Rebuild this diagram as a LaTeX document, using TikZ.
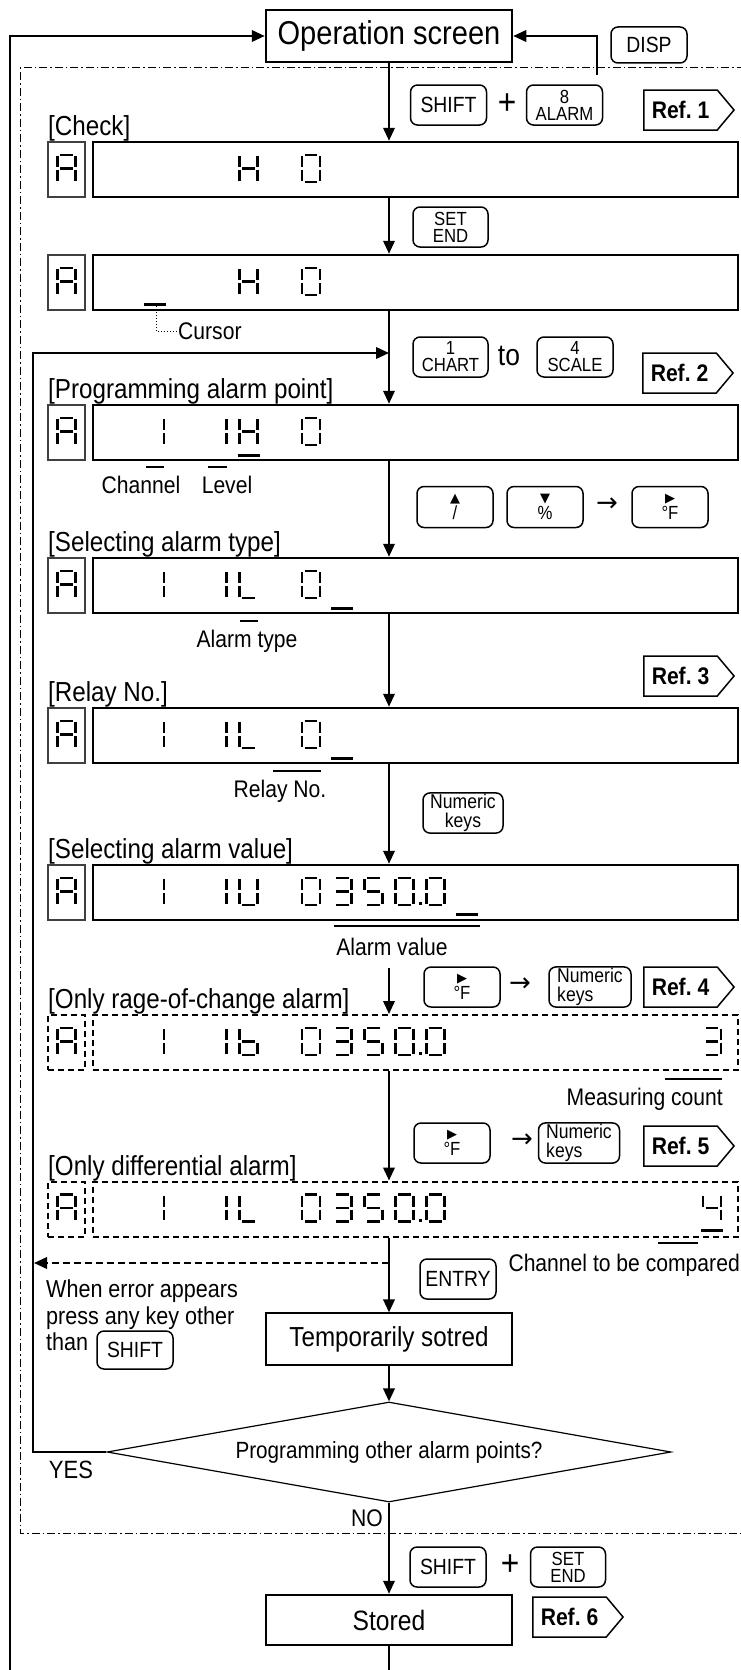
\documentclass[tikz,border=0pt]{standalone}
\usepackage{fontspec}
\setmainfont{Liberation Sans}[FakeStretch=0.88]
\newfontfamily\symfont{DejaVu Sans}
\usetikzlibrary{positioning,arrows.meta,shapes.geometric,shapes.symbols}

\newcommand{\fs}[1]{\fontsize{#1}{#1}\selectfont}

% seven-segment pieces, (#1,#2) is the centre of the character
\newcommand{\sga}[2]{\draw[segment] (#1-6.4,#2-13.5) -- (#1+6.4,#2-13.5);}
\newcommand{\sgg}[2]{\draw[segment] (#1-6.4,#2) -- (#1+6.4,#2);}
\newcommand{\sgd}[2]{\draw[segment] (#1-6.4,#2+13.5) -- (#1+6.4,#2+13.5);}
\newcommand{\sgf}[2]{\draw[segment] (#1-9,#2-12.4) -- (#1-9,#2-1.5);}
\newcommand{\sgb}[2]{\draw[segment] (#1+9,#2-12.4) -- (#1+9,#2-1.5);}
\newcommand{\sge}[2]{\draw[segment] (#1-9,#2+1.5) -- (#1-9,#2+12.4);}
\newcommand{\sgc}[2]{\draw[segment] (#1+9,#2+1.5) -- (#1+9,#2+12.4);}
\newcommand{\sevdigit}[3]{\foreach \s in #3 {\csname sg\s\endcsname{#1}{#2}}}
\newcommand{\dcursor}[2]{\draw[cursorline] (#1-11,#2) -- (#1+11,#2);}
\newcommand{\decpoint}[1]{\fill (418.5,#1+10.5) rectangle (421.5,#1+13.5);}
\newcommand{\chA}{a,b,c,e,f,g}
\newcommand{\chH}{b,c,e,f,g}
\newcommand{\chO}{a,b,c,d,e,f}
\newcommand{\chI}{b,c}
\newcommand{\chL}{d,e,f}
\newcommand{\chU}{b,c,d,e,f}
\newcommand{\chB}{c,d,e,f,g}
\newcommand{\chT}{a,b,c,d,g}
\newcommand{\chF}{a,c,d,f,g}
\newcommand{\chV}{b,c,f,g}

\begin{document}
\begin{tikzpicture}[x=1pt,y=-1pt,
  >={Triangle[length=13pt,width=11.5pt]},
  conn/.style={line width=2.1pt,->},
  segment/.style={line width=2.7pt},
  cursorline/.style={line width=3pt},
  marker/.style={line width=2.6pt},
  dbox/.style={draw,line width=2.5pt,minimum width=645pt,minimum height=55pt,inner sep=0pt},
  abox/.style={draw=black!75,line width=1.2pt,minimum width=37pt,minimum height=55pt,inner sep=0pt},
  broken/.style={line width=2pt,dash pattern=on 6pt off 4pt},
  bigbox/.style={draw,line width=2.5pt,minimum width=246pt,minimum height=52pt,inner sep=0pt},
  key/.style={draw,rounded corners=7pt,line width=1.5pt,minimum width=76pt,minimum height=40pt,inner sep=1pt,align=center,font=\fs{22}},
  key2/.style={key,font=\fontsize{19}{17}\selectfont},
  numkey/.style={key,font=\fontsize{20}{19.5}\selectfont},
  lbl/.style={anchor=base west,inner sep=0pt,font=\fs{27.5}},
  note/.style={inner sep=0pt,font=\fs{24}},
  reftag/.style={draw,shape=signal,signal to=east,signal pointer angle=100,line width=1.5pt,minimum height=40pt,inner xsep=8pt,inner ysep=0pt,anchor=west,font=\bfseries\fs{24}},
  sym/.style={inner sep=0pt,font=\symfont\fs{26}},
  plus/.style={inner sep=0pt,font=\fs{36}}]
\useasboundingbox (0,0) rectangle (741,1670);
\coordinate (m) at (389,0);

% programming mode frame
\draw[line width=1pt,dash pattern=on 8pt off 3pt on 1.5pt off 3pt] (760,68) -- (20,68) -- (20,1533) -- (760,1533);

\node[bigbox,font=\fs{33}] (op) at (389,36) {Operation screen};
\node[key,minimum height=36pt] (disp) at (649,45) {DISP};
\coordinate (dispfoot) at (597,75);
\coordinate (outfoot) at (10,1670);
\draw[conn] (outfoot) |- (op.west);
\draw[conn] (dispfoot) |- (op.east);

\node[key] (shift1) at (448.5,105) {SHIFT};
\node[plus] (plus1) at (507,104) {+};
\node[key2] (alarm) at (564.5,105) {8\\ALARM};
\node[reftag] (ref1) at (643,110) {Ref.\ 1};

% check
\node[lbl] (lcheck) at (48,135) {[Check]};
\node[abox] (a1) at (66.5,169.5) {};
\node[dbox] (d1) at (415.5,169.5) {};
\sevdigit{66.5}{168.5}{\chA}
\sevdigit{248.6}{168.5}{\chH}
\sevdigit{311}{168.5}{\chO}

\node[key2,minimum width=75pt] (setend1) at (450.5,227) {SET\\END};

\node[abox] (a2) at (66.5,282.5) {};
\node[dbox] (d2) at (415.5,282.5) {};
\sevdigit{66.5}{281.5}{\chA}
\sevdigit{248.6}{281.5}{\chH}
\sevdigit{311}{281.5}{\chO}
\dcursor{155}{304}
\coordinate (curpt) at (156,306);
\node[note,anchor=west] (curtxt) at (178,331) {Cursor};
\draw[line width=1pt,dotted] (curpt) |- (curtxt.west);

\node[key2,minimum width=75pt] (chart) at (450.5,357) {1\\CHART};
\node[inner sep=0pt,font=\fs{30}] (to) at (509,356) {to};
\node[key2,minimum width=76pt] (scale) at (575,357) {4\\SCALE};
\node[reftag] (ref2) at (642,373) {Ref.\ 2};

% programming alarm point
\node[lbl] (lprog) at (48,398) {[Programming alarm point]};
\node[abox] (a3) at (66.5,432.5) {};
\node[dbox] (d3) at (415.5,432.5) {};
\sevdigit{66.5}{431.5}{\chA}
\sevdigit{155}{431.5}{\chI}
\sevdigit{217.4}{431.5}{\chI}
\sevdigit{248.6}{431.5}{\chH}
\sevdigit{311}{431.5}{\chO}
\dcursor{248.6}{455}
\draw[marker] (146,467) -- (164,467);
\draw[marker] (208,467) -- (227,467);
\node[note] (lchan) at (141,485) {Channel};
\node[note] (llev) at (227,485) {Level};

\node[key2,minimum height=41pt] (up) at (455,507) {{\symfont\fs{13}▲}\\/};
\node[key2,minimum height=41pt] (down) at (545,507) {{\symfont\fs{13}▼}\\\%};
\node[sym] (arr1) at (607,505) {→};
\node[key2,minimum height=41pt] (degf1) at (670,507) {{\symfont\fs{13}▶}\\°F};

% alarm type
\node[lbl] (ltype) at (48,551) {[Selecting alarm type]};
\node[abox] (a4) at (66.5,585.5) {};
\node[dbox] (d4) at (415.5,585.5) {};
\sevdigit{66.5}{584.5}{\chA}
\sevdigit{155}{584.5}{\chI}
\sevdigit{217.4}{584.5}{\chI}
\sevdigit{248.6}{584.5}{\chL}
\sevdigit{311}{584.5}{\chO}
\dcursor{342.2}{608}
\draw[marker] (240,621) -- (258,621);
\node[note] (ltypetxt) at (247,641) {Alarm type};

\node[reftag] (ref3) at (643,676) {Ref.\ 3};

% relay
\node[lbl] (lrelay) at (48,701) {[Relay No.]};
\node[abox] (a5) at (66.5,735.5) {};
\node[dbox] (d5) at (415.5,735.5) {};
\sevdigit{66.5}{734.5}{\chA}
\sevdigit{155}{734.5}{\chI}
\sevdigit{217.4}{734.5}{\chI}
\sevdigit{248.6}{734.5}{\chL}
\sevdigit{311}{734.5}{\chO}
\dcursor{342.2}{758}
\draw[marker] (273,771) -- (321,771);
\node[note] (lrelaytxt) at (280,791) {Relay No.};

\node[numkey,minimum width=80pt] (num1) at (463,813) {Numeric\\keys};

% alarm value
\node[lbl] (lval) at (48,858) {[Selecting alarm value]};
\node[abox] (a6) at (66.5,892.5) {};
\node[dbox] (d6) at (415.5,892.5) {};
\sevdigit{66.5}{891.5}{\chA}
\sevdigit{155}{891.5}{\chI}
\sevdigit{217.4}{891.5}{\chI}
\sevdigit{248.6}{891.5}{\chU}
\sevdigit{311}{891.5}{\chO}
\sevdigit{342.2}{891.5}{\chT}
\sevdigit{373.4}{891.5}{\chF}
\sevdigit{404.6}{891.5}{\chO}
\decpoint{891.5}
\sevdigit{435.8}{891.5}{\chO}
\dcursor{467}{914}
\draw[marker] (334,926) -- (480,926);
\node[note] (lvaltxt) at (392,947) {Alarm value};
\coordinate (gap) at (389,968);

\node[key2] (degf2) at (462,987) {{\symfont\fs{13}▶}\\°F};
\node[sym] (arr2) at (520,985) {→};
\node[numkey,minimum width=82pt,align=left] (num2) at (590,987) {Numeric\\keys};
\node[reftag] (ref4) at (643,987) {Ref.\ 4};

% rate of change
\node[lbl] (lrate) at (48,1008) {[Only rage-of-change alarm]};
\node[abox,broken,draw=black] (a7) at (66.5,1042.5) {};
\node[dbox,broken] (d7) at (415.5,1042.5) {};
\sevdigit{66.5}{1041.5}{\chA}
\sevdigit{155}{1041.5}{\chI}
\sevdigit{217.4}{1041.5}{\chI}
\sevdigit{248.6}{1041.5}{\chB}
\sevdigit{311}{1041.5}{\chO}
\sevdigit{342.2}{1041.5}{\chT}
\sevdigit{373.4}{1041.5}{\chF}
\sevdigit{404.6}{1041.5}{\chO}
\decpoint{1041.5}
\sevdigit{435.8}{1041.5}{\chO}
\sevdigit{712}{1041.5}{\chT}
\draw[marker] (665,1079) -- (722,1079);
\node[note,anchor=east] (lcount) at (723,1099) {Measuring count};

\node[key2] (degf3) at (452,1143) {{\symfont\fs{13}▶}\\°F};
\node[sym] (arr3) at (522,1141) {→};
\node[numkey,minimum width=81pt,align=left] (num3) at (579,1143) {Numeric\\keys};
\node[reftag] (ref5) at (643,1146) {Ref.\ 5};

% differential
\node[lbl] (ldiff) at (48,1175) {[Only differential alarm]};
\node[abox,broken,draw=black] (a8) at (66.5,1209) {};
\node[dbox,broken] (d8) at (415.5,1209) {};
\sevdigit{66.5}{1208}{\chA}
\sevdigit{155}{1208}{\chI}
\sevdigit{217.4}{1208}{\chI}
\sevdigit{248.6}{1208}{\chL}
\sevdigit{311}{1208}{\chO}
\sevdigit{342.2}{1208}{\chT}
\sevdigit{373.4}{1208}{\chF}
\sevdigit{404.6}{1208}{\chO}
\decpoint{1208}
\sevdigit{435.8}{1208}{\chO}
\sevdigit{712}{1208}{\chV}
\dcursor{712}{1230}
\draw[marker] (658,1243) -- (698,1243);
\node[note,anchor=east] (lcomp) at (740,1265) {Channel to be compared};

\coordinate (err) at (389,1263);
\coordinate (errend) at (34,1263);
\node[key] (entry) at (458,1279) {ENTRY};
\node[anchor=north west,align=left,inner sep=0pt,font=\fontsize{24.5}{26.5}\selectfont] (errtxt) at (46,1280) {When error appears\\press any key other\\than};
\node[key,minimum height=38pt] (shift2) at (135,1350) {SHIFT};

\node[draw,line width=1.2pt,minimum width=246pt,minimum height=52pt,font=\fs{27.5}] (tmp) at (389,1339) {Temporarily sotred};
\node[draw,diamond,aspect=5.64,line width=1.2pt,minimum width=564pt,minimum height=100pt,inner sep=0pt,font=\fs{23.5}] (ask) at (389,1452) {Programming other alarm points?};
\node[inner sep=0pt,font=\fs{25}] (yes) at (71,1470) {YES};
\node[inner sep=0pt,anchor=east,font=\fs{24}] (no) at (383,1518) {NO};
\coordinate (loop) at (33,353);

\node[key] (shift3) at (448,1567) {SHIFT};
\node[plus] (plus2) at (510,1565) {+};
\node[key2,minimum width=75pt] (setend2) at (568,1567) {SET\\END};
\node[bigbox,minimum height=50pt,font=\fs{28}] (st) at (389,1620) {Stored};
\node[reftag] (ref6) at (532,1617) {Ref.\ 6};
\coordinate (mainfoot) at (389,1670);

% flow
\draw[conn] (op.south) -- (m |- d1.north);
\draw[conn] (m |- d1.south) -- (m |- d2.north);
\draw[conn] (m |- d2.south) -- (m |- d3.north);
\draw[conn] (ask.west) -| (loop) -- (m |- loop);
\draw[conn] (m |- d3.south) -- (m |- d4.north);
\draw[conn] (m |- d4.south) -- (m |- d5.north);
\draw[conn] (m |- d5.south) -- (m |- d6.north);
\draw[conn] (gap) -- (m |- d7.north);
\draw[conn] (m |- d7.south) -- (m |- d8.north);
\draw[conn] (m |- d8.south) -- (tmp.north);
\draw[conn,dash pattern=on 7pt off 4pt] (err) -- (errend);
\draw[conn] (tmp.south) -- (ask.north);
\draw[conn] (ask.south) -- (st.north);
\draw[line width=2.1pt] (st.south) -- (mainfoot);
\end{tikzpicture}
\end{document}
